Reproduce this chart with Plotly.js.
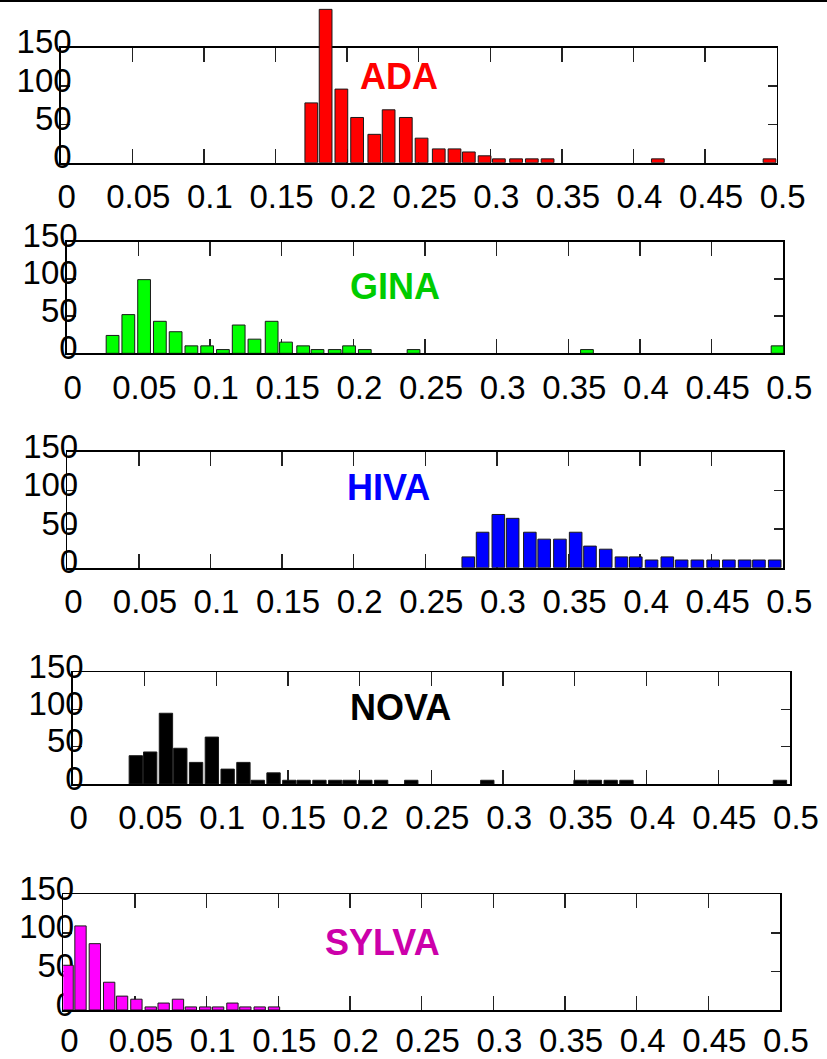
<!DOCTYPE html>
<html>
<head>
<meta charset="utf-8">
<script src="https://cdn.plot.ly/plotly-3.0.1.min.js"></script>
<style>html,body{margin:0;padding:0;background:#fff;} #chart{width:827px;height:1059px;}</style>
</head>
<body>
<div id="chart"></div>
<script>
// ---------- data ----------
const xTickVals = [0, 0.05, 0.1, 0.15, 0.2, 0.25, 0.3, 0.35, 0.4, 0.45, 0.5];
const xTickText = ["0", "0.05", "0.1", "0.15", "0.2", "0.25", "0.3", "0.35", "0.4", "0.45", "0.5"];
const yTickVals = [0, 50, 100, 150];
const yTickText = ["0", "50", "100", "150"];

const datasetNames = ["ADA", "GINA", "HIVA", "NOVA", "SYLVA"];

const adaX = [0.175,0.185,0.196,0.207,0.219,0.229,0.241,0.252,0.264,0.275,0.285,0.296,0.306,0.318,0.329,0.340,0.417,0.495];
const adaY = [78,200,96,59,37,69,59,32,18,18,14,9,5,5,5,5,5,5];

const ginaX = [0.032,0.043,0.054,0.065,0.076,0.087,0.098,0.109,0.120,0.131,0.143,0.153,0.165,0.175,0.187,0.197,0.208,0.242,0.363,0.496];
const ginaY = [24,52,99,43,29,10,10,5,38,19,43,15,10,5,5,10,5,5,5,10];

const hivaX = [0.280,0.290,0.301,0.311,0.323,0.333,0.344,0.355,0.365,0.376,0.387,0.397,0.408,0.419,0.429,0.440,0.451,0.462,0.473,0.483,0.494];
const hivaY = [14,46,69,64,46,37,37,46,28,24,14,14,10,14,10,10,10,10,10,10,10];

const novaX = [0.044,0.054,0.065,0.075,0.086,0.097,0.108,0.119,0.129,0.140,0.151,0.161,0.172,0.183,0.193,0.204,0.215,0.236,0.289,0.354,0.364,0.375,0.386,0.493];
const novaY = [38,43,95,48,29,63,20,29,5,15,5,5,5,5,5,5,5,5,5,5,5,5,5,5];

const sylvaX = [0.003,0.012,0.022,0.032,0.041,0.051,0.061,0.070,0.080,0.089,0.099,0.108,0.118,0.127,0.137,0.147];
const sylvaY = [58,109,86,36,18,14,4,9,14,4,4,4,9,4,4,4];

// ---------- styling / layout ----------
const W = 827, H = 1059;
const FONT = "Liberation Sans, Arial, Helvetica, sans-serif";
const EXT = 45; // px of headroom above each frame so tall bars are not clipped
const series = [
  {x: adaX,   y: adaY,   bar: "#ff0000", title: "#ff0000", width: 0.0089, frame: [60.7, 776.7, 47.7, 162.7],  label: [399, 76],  xStandoff: 4},
  {x: ginaX,  y: ginaY,  bar: "#00ff00", title: "#00cc00", width: 0.0089, frame: [66.7, 783.3, 241.7, 353.3], label: [395, 287], xStandoff: 4},
  {x: hivaX,  y: hivaY,  bar: "#0000ff", title: "#0000ff", width: 0.0088, frame: [67.3, 783.3, 452, 567.7],   label: [388, 487], xStandoff: 4},
  {x: novaX,  y: novaY,  bar: "#000000", title: "#000000", width: 0.0093, frame: [72.7, 790, 672.3, 784],     label: [400, 707], xStandoff: 4},
  {x: sylvaX, y: sylvaY, bar: "#ff00ff", title: "#cc00aa", width: 0.0079, frame: [63.3, 780, 894.3, 1010],    label: [382, 942], xStandoff: 1}
];

const traces = [];
const layout = {
  width: W, height: H,
  margin: {l: 0, r: 0, t: 0, b: 0, pad: 0},
  paper_bgcolor: "#ffffff",
  plot_bgcolor: "rgba(0,0,0,0)",
  showlegend: false,
  bargap: 0,
  annotations: [],
  shapes: [
    {type: "line", xref: "paper", yref: "paper", x0: 0, x1: 1, y0: 1 - 1 / H, y1: 1 - 1 / H,
     line: {color: "#000000", width: 2}}
  ]
};

series.forEach((s, i) => {
  const n = i === 0 ? "" : String(i + 1);
  const nb = String(i + 6);
  const [l, r, t, b] = s.frame;
  const tExt = Math.max(1, t - EXT);
  // empty trace that makes the framed subplot exist
  traces.push({
    type: "scatter", mode: "markers", x: [], y: [],
    xaxis: "x" + n, yaxis: "y" + n, hoverinfo: "skip", showlegend: false
  });
  traces.push({
    type: "bar",
    x: s.x, y: s.y,
    width: s.width,
    xaxis: "x" + n, yaxis: "y" + nb,
    marker: {color: s.bar, line: {color: "#1a1a1a", width: 1}},
    hoverinfo: "x+y",
    name: datasetNames[i]
  });
  layout["xaxis" + n] = {
    domain: [l / W, r / W],
    anchor: "y" + n,
    range: [0, 0.5],
    tickmode: "array", tickvals: xTickVals, ticktext: xTickText,
    ticks: "inside", ticklen: 14, tickwidth: 1.3, tickcolor: "#222",
    showline: true, linecolor: "#000", linewidth: 1.8, mirror: "ticks",
    showgrid: false, zeroline: false,
    tickfont: {family: FONT, size: 33, color: "#000"},
    ticklabelshift: 6,
    ticklabelstandoff: s.xStandoff
  };
  layout["yaxis" + n] = {
    domain: [1 - b / H, 1 - t / H],
    anchor: "x" + n,
    range: [0, 150],
    tickmode: "array", tickvals: yTickVals, ticktext: yTickText,
    ticks: "inside", ticklen: 9, tickwidth: 1.3, tickcolor: "#222",
    showline: true, linecolor: "#000", linewidth: 1.5, mirror: "ticks",
    showgrid: false, zeroline: false,
    tickfont: {family: FONT, size: 33, color: "#000"},
    ticklabelshift: -6,
    ticklabelstandoff: -19
  };
  // hidden value axis for the bars: same zero line and scale, taller domain
  layout["yaxis" + nb] = {
    domain: [1 - b / H, 1 - tExt / H],
    anchor: "x" + n,
    range: [0, 150 * (b - tExt) / (b - t)],
    visible: false,
    showgrid: false, zeroline: false
  };
  layout.annotations.push({
    text: "<b>" + datasetNames[i] + "</b>",
    xref: "paper", yref: "paper",
    x: s.label[0] / W, y: 1 - s.label[1] / H,
    xanchor: "center", yanchor: "middle",
    showarrow: false,
    font: {family: FONT, size: 36, color: s.title}
  });
});

Plotly.newPlot("chart", traces, layout, {displayModeBar: false, staticPlot: true});
</script>
</body>
</html>
